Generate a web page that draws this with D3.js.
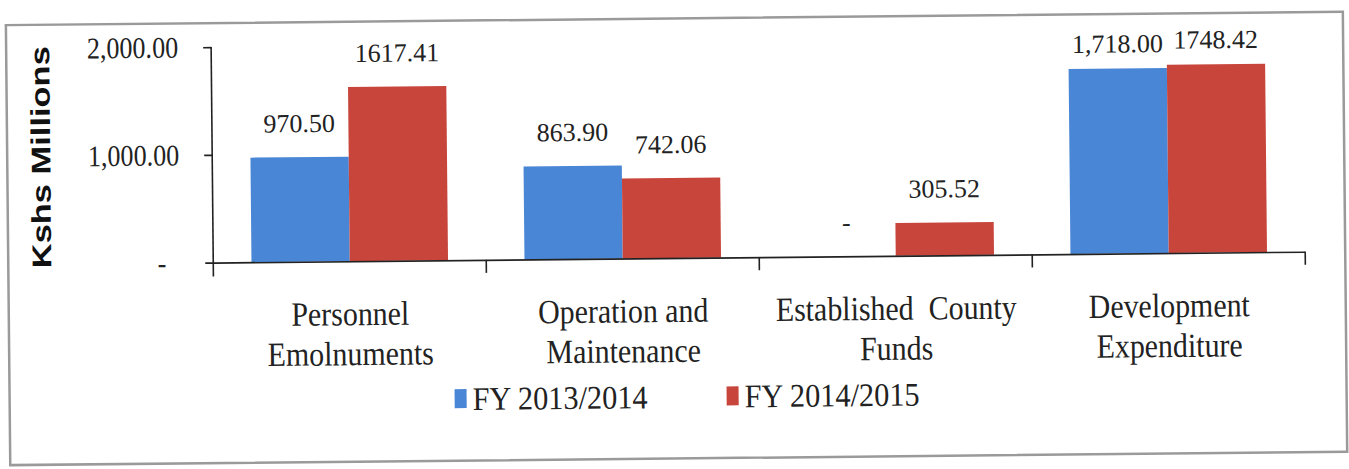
<!DOCTYPE html>
<html>
<head>
<meta charset="utf-8">
<script src="https://cdn.jsdelivr.net/npm/d3@7"></script>
<style>
  body { margin: 0; background: #fff; }
  svg { display: block; }
</style>
</head>
<body>
<svg></svg>
<script>
// data
const categoryLines = [
    ["Personnel", "Emolnuments"],
    ["Operation and", "Maintenance"],
    ["Established  County", "Funds"],
    ["Development", "Expenditure"]
];
const categories = categoryLines.map(l => l.join(" "));
const series = ["FY 2013/2014", "FY 2014/2015"];
const fy2013 = [970.50, 863.90, 0, 1718.00];
const fy2014 = [1617.41, 742.06, 305.52, 1748.42];
const yTicks = [0, 1000, 2000];
const colors = ["#4a86d6", "#c8453b"];

const width = 1349, height = 469;

const svg = d3.select("svg")
    .attr("width", width)
    .attr("height", height);

// the scan is tilted a little, so the whole thing is rotated
const g = svg.append("g")
    .attr("transform", "rotate(-0.57,674,234)")
    .attr("font-family", "'Liberation Serif', 'Times New Roman', serif")
    .attr("fill", "#222");

g.append("rect")
    .attr("x", 8).attr("y", 18.5)
    .attr("width", 1337).attr("height", 440)
    .attr("fill", "none")
    .attr("stroke", "#9a9a9a")
    .attr("stroke-width", 2.5);

const x = d3.scaleBand()
    .domain(categories)
    .range([213, 1305])
    .paddingInner(0.28)
    .paddingOuter(0.14);

const xSub = d3.scaleBand()
    .domain(series)
    .range([0, x.bandwidth()]);

const y = d3.scaleLinear()
    .domain([0, 2000])
    .range([258, 42.5]);

const rows = categories.map((c, i) => ({
    cat: c,
    values: [
        { s: series[0], v: fy2013[i], label: fy2013[i] === 0 ? "-" : d3.format(",.2f")(fy2013[i]) },
        { s: series[1], v: fy2014[i], label: d3.format(".2f")(fy2014[i]) }
    ]
}));

// bars
const groups = g.append("g")
    .selectAll("g")
    .data(rows)
    .enter().append("g")
    .attr("transform", d => `translate(${x(d.cat)},0)`);

groups.selectAll("rect")
    .data(d => d.values)
    .enter().append("rect")
    .attr("x", d => xSub(d.s))
    .attr("y", d => y(d.v))
    .attr("width", xSub.bandwidth())
    .attr("height", d => y(0) - y(d.v))
    .attr("fill", (d, i) => colors[i]);

// labels near the top of the plot get squeezed closer to the bar
function labelY(v) {
    const ly = y(v) - 25;
    return ly < 50 ? y(v) - 16 : ly;
}

groups.selectAll("text")
    .data(d => d.values)
    .enter().append("text")
    .attr("x", d => xSub(d.s) + xSub.bandwidth() / 2)
    .attr("y", d => labelY(d.v))
    .attr("text-anchor", "middle")
    .attr("font-size", 26)
    .text(d => d.label);

// y axis
const yAxis = g.append("g")
    .attr("transform", `translate(${x.range()[0]},0)`)
    .call(d3.axisLeft(y)
        .tickValues(yTicks)
        .tickSize(8)
        .tickSizeOuter(0)
        .tickFormat(d => d === 0 ? "-" : d3.format(",.2f")(d)));

yAxis.select(".domain")
    .attr("d", `M0,${y(2000)}V${y(0) + 14}`)
    .attr("stroke", "#222")
    .attr("stroke-width", 1.6);
yAxis.selectAll(".tick line").attr("stroke", "#222").attr("stroke-width", 1.6);
yAxis.selectAll(".tick text")
    .attr("font-family", "'Liberation Serif', serif")
    .attr("font-size", 30)
    .attr("fill", "#222")
    .attr("transform", "scale(0.87,1)")
    .attr("x", d => (d === 0 ? -47 : -33) / 0.87)
    .attr("dy", "0.32em");
yAxis.attr("font-family", null);

// x axis line and category separators
const xAxis = g.append("g")
    .attr("transform", `translate(0,${y(0)})`)
    .call(d3.axisBottom(x).tickSize(0).tickFormat(""));
xAxis.select(".domain").attr("stroke", "#222").attr("stroke-width", 1.6);

const bounds = categories.map(c => x(c) - x.step() * x.paddingInner() / 2);
bounds[0] = x.range()[0];
bounds.push(x.range()[1]);

g.append("g")
    .selectAll("line")
    .data(bounds.slice(1))
    .enter().append("line")
    .attr("x1", d => d).attr("x2", d => d)
    .attr("y1", y(0)).attr("y2", y(0) + 13)
    .attr("stroke", "#222")
    .attr("stroke-width", 1.6);

// category labels
const catLabel = g.append("g")
    .selectAll("text")
    .data(categoryLines)
    .enter().append("text")
    .attr("transform", (d, i) => `translate(${x(categories[i]) + x.bandwidth() / 2},322) scale(0.88,1)`)
    .attr("text-anchor", "middle")
    .attr("font-size", 34)
    .style("white-space", "pre");

catLabel.selectAll("tspan")
    .data(d => d)
    .enter().append("tspan")
    .attr("x", 0)
    .attr("dy", (d, i) => i === 0 ? 0 : 40)
    .text(d => d);

// y title
g.append("text")
    .attr("transform", "translate(51,151) rotate(-90)")
    .attr("text-anchor", "middle")
    .attr("font-family", "'Liberation Sans', Arial, sans-serif")
    .attr("font-weight", "bold")
    .attr("font-size", 27)
    .attr("fill", "#111")
    .attr("textLength", 222)
    .attr("lengthAdjust", "spacingAndGlyphs")
    .text("Kshs Millions");

// legend
const legendX = [453, 725];
const legend = g.append("g")
    .selectAll("g")
    .data(series)
    .enter().append("g")
    .attr("transform", (d, i) => `translate(${legendX[i]},0)`);

legend.append("rect")
    .attr("x", 0).attr("y", 387)
    .attr("width", 12).attr("height", 19)
    .attr("fill", (d, i) => colors[i]);

legend.append("text")
    .attr("transform", "translate(18,408) scale(0.92,1)")
    .attr("font-size", 33)
    .text(d => d);
</script>
</body>
</html>
